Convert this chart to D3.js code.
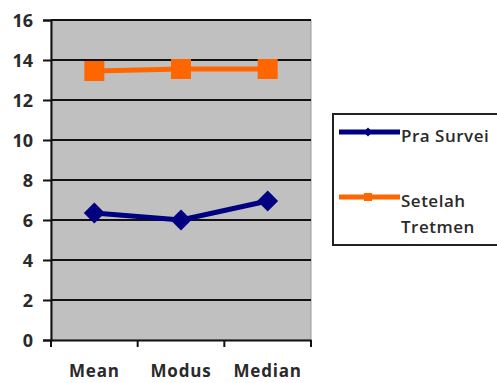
<!DOCTYPE html>
<html lang="en">
<head>
    <meta charset="UTF-8">
    <title>Pra Survei vs Setelah Tretmen</title>
    <script src="https://d3js.org/d3.v7.min.js"></script>
    <style>
        body {
            margin: 0;
            background: white;
            font-family: 'Open Sans', sans-serif;
        }
        .tick text {
            font-weight: bold;
            fill: #2a2a2a;
            font-family: 'Open Sans', sans-serif;
        }
    </style>
</head>
<body>
    <div id="chart"></div>

    <script>
        // Data
        const categories = ["Mean", "Modus", "Median"];
        const praSurvei = [6.35, 6.0, 6.95];
        const setelahTretmen = [13.45, 13.55, 13.55];
        const yTicks = [0, 2, 4, 6, 8, 10, 12, 14, 16];

        const width = 497;
        const height = 383;
        const plot = { left: 51, top: 20, right: 311, bottom: 340 };

        const svg = d3.select("#chart")
            .append("svg")
            .attr("width", width)
            .attr("height", height);

        const x = d3.scaleBand()
            .domain(categories)
            .range([plot.left, plot.right]);

        const y = d3.scaleLinear()
            .domain([0, 16])
            .range([plot.bottom, plot.top]);

        // Plot background
        svg.append("rect")
            .attr("x", plot.left)
            .attr("y", plot.top)
            .attr("width", plot.right - plot.left)
            .attr("height", plot.bottom - plot.top)
            .attr("fill", "#c0c0c0")
            .attr("stroke", "#999")
            .attr("stroke-width", 1);

        // Gridlines
        svg.selectAll(".grid")
            .data(yTicks.filter(d => d > 0))
            .enter()
            .append("line")
            .attr("x1", plot.left)
            .attr("x2", plot.right)
            .attr("y1", d => y(d))
            .attr("y2", d => y(d))
            .attr("stroke", "#111")
            .attr("stroke-width", 2);

        // Y axis
        const yAxis = svg.append("g")
            .attr("transform", `translate(${plot.left},0)`)
            .call(d3.axisLeft(y).tickValues(yTicks).tickSize(8).tickPadding(10));
        yAxis.select(".domain").attr("stroke", "#111").attr("stroke-width", 2);
        yAxis.selectAll(".tick line").attr("stroke", "#111").attr("stroke-width", 2);
        yAxis.selectAll(".tick text").style("font-size", "18px").attr("dy", "0.36em");

        // X axis
        const xAxis = svg.append("g")
            .attr("transform", `translate(0,${plot.bottom})`)
            .call(d3.axisBottom(x).tickSize(0).tickPadding(25));
        xAxis.select(".domain").attr("stroke", "#111").attr("stroke-width", 2);
        xAxis.selectAll(".tick text")
            .style("font-size", "17px")
            .style("letter-spacing", "0.8px");

        // category separator ticks
        const edges = [plot.left].concat(categories.map(c => x(c) + x.bandwidth()));
        svg.selectAll(".xtick")
            .data(edges)
            .enter()
            .append("line")
            .attr("x1", d => d)
            .attr("x2", d => d)
            .attr("y1", plot.bottom)
            .attr("y2", plot.bottom + 7)
            .attr("stroke", "#111")
            .attr("stroke-width", 2);

        const cx = c => x(c) + x.bandwidth() / 2;

        const line = d3.line()
            .x((d, i) => cx(categories[i]))
            .y(d => y(d));

        // Pra Survei
        svg.append("path")
            .datum(praSurvei)
            .attr("d", line)
            .attr("fill", "none")
            .attr("stroke", "#000080")
            .attr("stroke-width", 5);

        svg.selectAll(".diamond")
            .data(praSurvei)
            .enter()
            .append("path")
            .attr("d", d3.symbol().type(d3.symbolSquare).size(220))
            .attr("transform", (d, i) => `translate(${cx(categories[i])},${y(d)}) rotate(45)`)
            .attr("fill", "#000080");

        // Setelah Tretmen
        svg.append("path")
            .datum(setelahTretmen)
            .attr("d", line)
            .attr("fill", "none")
            .attr("stroke", "#ff6600")
            .attr("stroke-width", 5);

        svg.selectAll(".square")
            .data(setelahTretmen)
            .enter()
            .append("rect")
            .attr("x", (d, i) => cx(categories[i]) - 10)
            .attr("y", d => y(d) - 10)
            .attr("width", 20)
            .attr("height", 20)
            .attr("fill", "#ff6600");

        // Legend
        const legend = svg.append("g");
        legend.append("rect")
            .attr("x", 333)
            .attr("y", 114)
            .attr("width", 180)
            .attr("height", 131)
            .attr("fill", "white")
            .attr("stroke", "#222")
            .attr("stroke-width", 2);

        const legendItems = [
            { name: ["Pra Survei"], color: "#000080", y: 132, marker: "diamond" },
            { name: ["Setelah", "Tretmen"], color: "#ff6600", y: 197, marker: "square" }
        ];

        legendItems.forEach(item => {
            legend.append("line")
                .attr("x1", 339)
                .attr("x2", 400)
                .attr("y1", item.y)
                .attr("y2", item.y)
                .attr("stroke", item.color)
                .attr("stroke-width", 5);
            if (item.marker === "diamond") {
                legend.append("path")
                    .attr("d", d3.symbol().type(d3.symbolSquare).size(40))
                    .attr("transform", `translate(368,${item.y}) rotate(45)`)
                    .attr("fill", item.color);
            } else {
                legend.append("rect")
                    .attr("x", 364)
                    .attr("y", item.y - 4)
                    .attr("width", 8)
                    .attr("height", 8)
                    .attr("fill", item.color);
            }
            item.name.forEach((t, i) => {
                legend.append("text")
                    .attr("x", 401)
                    .attr("y", item.y + 10 + i * 26)
                    .attr("font-size", "17px")
                    .attr("font-weight", "600")
                    .attr("letter-spacing", "0.5px")
                    .attr("fill", "#2a2a2a")
                    .text(t);
            });
        });
    </script>
</body>
</html>
